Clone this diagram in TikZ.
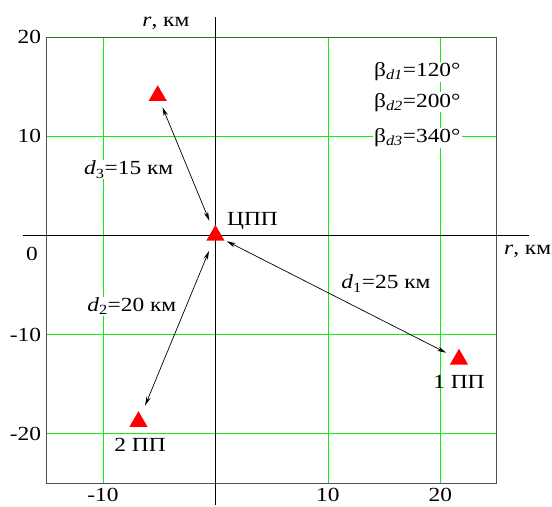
\documentclass[tikz,border=0pt]{standalone}
\usepackage{fontspec}
\setmainfont{Liberation Serif}[FakeStretch=1.17]
\usetikzlibrary{arrows.meta,shapes.geometric}
\definecolor{gridgreen}{RGB}{20,235,20}
\definecolor{topgreen}{RGB}{40,120,40}
\definecolor{framegray}{RGB}{80,80,80}
\tikzset{
  marker/.style={regular polygon,regular polygon sides=3,fill=red,inner sep=0pt,minimum size=21pt},
  lbl/.style={font=\fontsize{20}{22}\selectfont,inner sep=1pt},
  dist/.style={{Stealth[length=9pt,width=4.5pt]}-{Stealth[length=9pt,width=4.5pt]},line width=0.7pt}
}
\begin{document}
\begin{tikzpicture}[x=11.25pt,y=9.91pt]
\useasboundingbox (-19.15,-27.40) rectangle (29.92,23.76);
% grid and frame
\foreach \x in {-10,10,20} \draw[gridgreen,line width=0.8pt] (\x,-25) -- (\x,20);
\foreach \y in {-20,-10,10} \draw[gridgreen,line width=0.8pt] (-15,\y) -- (25,\y);
\draw[framegray,line width=0.8pt] (-15,20) -- (-15,-25) -- (25,-25) -- (25,20);
\draw[topgreen,line width=0.8pt] (-15,20) -- (25,20);
% axes
\draw[line width=1.1pt] (-17.13,0) -- (27.88,0);
\draw[line width=1.1pt] (0,22.05) -- (0,-27.2);
\node[lbl,anchor=base] (ry) at (-4.4,21.1) {\textit{r}, км};
\node[lbl,anchor=base west] (rx) at (25.56,-1.97) {\textit{r}, км};
% tick labels
\foreach \y in {20,10,-10,-20} \node[lbl,anchor=east] at (-15.4,\y) {\y};
\node[lbl] (zero) at (-16.3,-1.84) {0};
\foreach \x in {-10,10,20} \node[lbl,anchor=base] at (\x,-26.85) {\x};
% points
\node[marker] (cpp) at (0,0) {};
\node[marker] (pp1) at (21.65,-12.5) {};
\node[marker] (pp2) at (-6.84,-18.79) {};
\node[marker] (pp3) at (-5.13,14.1) {};
\draw[dist,shorten <=16pt,shorten >=12.5pt] (cpp.center) -- (pp3.center);
\draw[dist,shorten <=12.7pt,shorten >=14.5pt] (cpp.center) -- (pp1.center);
\draw[dist,shorten <=16.7pt,shorten >=17.4pt] (cpp.center) -- (pp2.center);
\node[lbl,anchor=base west] (lcpp) at (0.94,0.96) {ЦПП};
\node[lbl,anchor=base] (lpp1) at (21.65,-15.49) {1 ПП};
\node[lbl,anchor=base,fill=white] (lpp2) at (-6.7,-21.8) {2 ПП};
% distances and bearings
\node[lbl,anchor=base west,fill=white] (d3) at (-11.77,6.1) {\textit{d}\textsubscript{3}=15 км};
\node[lbl,anchor=base west,fill=white] (d2) at (-11.5,-7.69) {\textit{d}\textsubscript{2}=20 км};
\node[lbl,anchor=base east] (d1) at (19.23,-5.4) {\textit{d}\textsubscript{1}=25 км};
\node[lbl,anchor=base west,fill=white] (b1) at (14.0,16.03) {β\textsubscript{\textit{d1}}=120°};
\node[lbl,anchor=base west,fill=white] (b2) at (14.0,12.95) {β\textsubscript{\textit{d2}}=200°};
\node[lbl,anchor=base west,fill=white] (b3) at (14.0,9.36) {β\textsubscript{\textit{d3}}=340°};
\end{tikzpicture}
\end{document}
